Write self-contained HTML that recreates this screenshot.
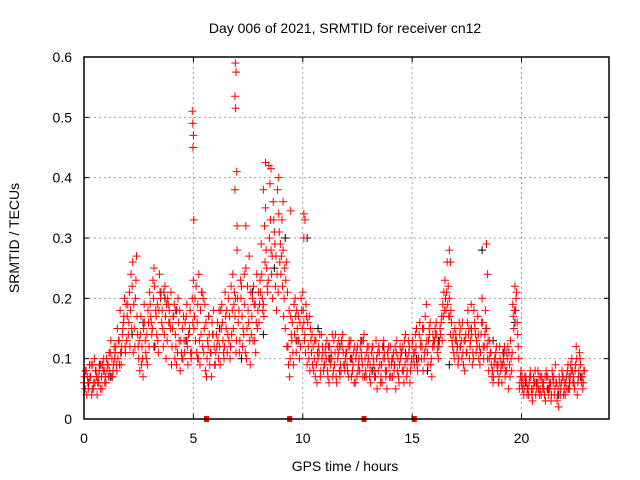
<!DOCTYPE html>
<html><head><meta charset="utf-8"><style>
body{margin:0;background:#fff}
svg{display:block;font-family:"Liberation Sans",sans-serif}
</style></head><body>
<svg id="chart" width="640" height="480" xmlns="http://www.w3.org/2000/svg">
<rect width="640" height="480" fill="#fff"/>
<g id="grid"></g>
<g id="pts"></g>
<g id="axes"></g>
<text x="345" y="33" font-size="14" text-anchor="middle">Day 006 of 2021, SRMTID for receiver cn12</text>
<text x="345" y="471" font-size="14" text-anchor="middle">GPS time / hours</text>
<text transform="translate(19,238) rotate(-90)" font-size="14" text-anchor="middle">SRMTID / TECUs</text>
</svg>
<script>
const xTicks=[0,5,10,15,20];
const yTicks=[0,0.1,0.2,0.3,0.4,0.5,0.6];
const yTickLabels=["0","0.1","0.2","0.3","0.4","0.5","0.6"];
const redA=[.06,.08,.05,.07,.09,.06,.04,.08,.07,.10,
.06,.09,.11,.07,.10,.08,.13,.09,.16,.11,
.19,.12,.22,.15,.27,.10,.17,.07,.13,.09,
.21,.14,.25,.17,.11,.20,.15,.22,.13,.18,
.09,.17,.12,.20,.08,.15,.11,.19,.14,.10,
.23,.13,.19,.09,.21,.15,.07,.17,.11,.14,
.09,.16,.12,.19,.10,.15,.20,.12,.24,.17,
.28,.11,.22,.14,.25,.18,.09,.20,.13,.24,
.16,.29,.19,.35,.21,.39,.27,.31,.18,.34,
.24,.28,.15,.21,.07,.13,.19,.11,.17,.12,
.21,.14,.09,.17,.11,.08,.13,.10,.07,.12,
.09,.13,.06,.11,.08,.14,.10,.07,.12,.09,
.11,.07,.13,.09,.06,.12,.08,.10,.14,.07,
.10,.06,.12,.08,.05,.11,.09,.13,.07,.10,
.12,.07,.09,.13,.06,.11,.08,.14,.10,.06,
.12,.09,.15,.10,.13,.08,.17,.11,.14,.07,
.12,.16,.10,.14,.19,.23,.26,.20,.16,.11,
.14,.09,.12,.16,.08,.11,.15,.19,.10,.14,
.17,.09,.20,.12,.15,.08,.11,.06,.10,.08,
.12,.06,.09,.11,.05,.13,.19,.22,.16,.05,
.06,.04,.07,.05,.08,.03,.06,.05,.07,.04,
.06,.03,.07,.05,.08,.04,.06,.02,.05,.07,
.04,.08,.05,.10,.06,.12,.07,.09,.05];
const redB=[.05,.07,.09,.04,.06,.08,.07,.05,.09,.06,
.08,.11,.07,.09,.12,.10,.18,.14,.20,.13,
.16,.24,.11,.20,.14,.08,.12,.19,.10,.16,
.17,.23,.12,.19,.24,.16,.21,.10,.19,.15,
.15,.10,.18,.13,.11,.17,.13,.09,.18,.20,
.17,.11,.24,.14,.20,.08,.13,.09,.16,.12,
.14,.10,.18,.13,.21,.11,.17,.14,.19,.11,
.16,.23,.12,.19,.15,.27,.14,.22,.11,.18,
.23,.20,.32,.25,.42,.28,.36,.22,.38,.26,
.33,.20,.26,.09,.17,.11,.20,.15,.10,.18,
.16,.19,.12,.15,.09,.13,.06,.11,.14,.08,
.12,.07,.10,.14,.09,.06,.13,.08,.11,.10,
.08,.12,.10,.06,.11,.09,.13,.07,.10,.12,
.07,.11,.09,.13,.08,.06,.12,.10,.05,.09,
.09,.11,.05,.10,.12,.08,.13,.07,.11,.09,
.10,.14,.08,.16,.12,.10,.19,.13,.09,.14,
.15,.11,.13,.17,.21,.18,.22,.14,.12,.15,
.11,.16,.13,.09,.14,.18,.12,.09,.16,.13,
.10,.14,.12,.18,.10,.13,.07,.09,.12,.06,
.08,.11,.07,.10,.09,.08,.15,.20,.12,.07,
.05,.07,.04,.06,.05,.07,.04,.08,.05,.06,
.04,.07,.05,.03,.06,.09,.04,.06,.08,.05,
.07,.05,.09,.06,.08,.04,.11,.06,.08];
const redC=[.07,.04,.06,.09,.05,.08,.06,.09,.05,.08,
.10,.07,.13,.08,.11,.15,.09,.12,.17,.19,
.14,.18,.26,.12,.17,.13,.09,.15,.11,.18,
.19,.15,.22,.14,.18,.21,.12,.17,.20,.16,
.12,.19,.09,.16,.13,.10,.16,.12,.15,.11,
.15,.22,.10,.18,.12,.19,.10,.14,.07,.18,
.11,.13,.09,.16,.12,.18,.13,.22,.15,.20,
.20,.13,.17,.24,.10,.16,.21,.13,.19,.15,
.19,.24,.17,.28,.23,.33,.20,.29,.24,.31,
.27,.17,.23,.12,.10,.16,.14,.18,.13,.20,
.18,.11,.16,.08,.14,.10,.09,.12,.08,.11,
.11,.08,.12,.10,.13,.07,.11,.09,.14,.08,
.09,.13,.07,.11,.10,.08,.12,.09,.07,.11,
.12,.08,.10,.07,.11,.09,.06,.11,.08,.12,
.07,.10,.12,.08,.09,.11,.06,.10,.13,.08,
.13,.11,.09,.14,.10,.15,.12,.09,.16,.12,
.13,.14,.12,.16,.17,.20,.19,.17,.13,.10,
.13,.10,.15,.11,.13,.16,.10,.14,.18,.11,
.14,.11,.16,.14,.12,.10,.09,.07,.11,.09,
.10,.09,.12,.08,.11,.10,.17,.18,.14,.06,
.07,.05,.06,.04,.07,.05,.08,.06,.04,.07,
.05,.08,.04,.06,.07,.05,.03,.07,.06,.04,
.06,.09,.07,.08,.05,.10,.08,.07,.06];
const redD=[.08,.06,.07,.05,.10,.07,.06,.09,.08,.07,
.09,.08,.10,.12,.09,.13,.11,.15,.12,.17,
.21,.15,.19,.23,.12,.14,.10,.16,.14,.12,
.16,.20,.18,.13,.21,.18,.14,.19,.16,.21,
.17,.14,.11,.18,.10,.13,.17,.14,.11,.16,
.20,.16,.13,.21,.11,.16,.12,.11,.14,.09,
.12,.18,.15,.11,.17,.14,.10,.18,.21,.13,
.18,.20,.15,.11,.22,.13,.17,.19,.16,.21,
.21,.18,.26,.22,.30,.24,.33,.27,.21,.29,
.22,.25,.12,.18,.14,.09,.17,.13,.16,.15,
.13,.17,.10,.13,.12,.07,.11,.14,.10,.09,
.10,.12,.09,.07,.11,.12,.08,.13,.09,.11,
.12,.10,.08,.12,.07,.10,.11,.13,.08,.09,
.09,.12,.07,.10,.12,.07,.10,.08,.11,.07,
.10,.08,.11,.07,.10,.12,.09,.08,.12,.10,
.11,.12,.10,.12,.15,.11,.13,.15,.10,.13,
.14,.12,.15,.13,.18,.21,.17,.18,.14,.13,
.12,.14,.10,.13,.11,.14,.13,.11,.15,.12,
.12,.16,.10,.15,.13,.11,.08,.10,.09,.07,
.09,.10,.08,.12,.07,.11,.18,.21,.10,.08,
.06,.06,.05,.07,.04,.06,.06,.05,.07,.05,
.07,.05,.06,.04,.07,.06,.05,.04,.07,.06,
.05,.07,.08,.07,.09,.06,.10,.07,.08];
const blackVals=[.06,.09,.07,.11,.14,.16,.12,.20,.18,.13,.10,.17,.15,.12,.10,.21,.14,.25,.30,.13,.30,.15,.10,.12,.10,.13,.08,.12,.09,.11,.10,.08,.13,.09,.12,.15,.28,.13,.11,.16,.06,.06,.05,.04,.06,.07];
const spikeTimes=[4.95,4.97,5.0,4.98,5.02,6.92,6.95,6.9,6.93,6.98,6.9,7.0,7.4,8.2,8.3,8.55,9.45,10.05,10.1,10.05,16.7,16.75,18.4,18.45,9.1,8.9];
const spikeVals=[.51,.49,.47,.45,.33,.59,.575,.535,.515,.41,.38,.32,.32,.38,.425,.415,.345,.34,.33,.30,.28,.26,.29,.24,.36,.40];
const gapTimes=[5.6,9.4,12.8,15.1];

const X0=84,X1=609,Y0=419,Y1=57,XMAX=24,YMAX=0.6;
const sx=t=>X0+(X1-X0)*t/XMAX;
const sy=v=>Y0-(Y0-Y1)*v/YMAX;
const NS="http://www.w3.org/2000/svg";
function mk(tag,attrs,parent){const e=document.createElementNS(NS,tag);for(const k in attrs)e.setAttribute(k,attrs[k]);parent.appendChild(e);return e;}
const grid=document.getElementById('grid'),pts=document.getElementById('pts'),axes=document.getElementById('axes');
xTicks.forEach(t=>{
  if(t>0){const l=mk('line',{x1:sx(t),x2:sx(t),y1:Y1,y2:Y0,stroke:'#a0a0a0','stroke-dasharray':'2,3'},grid);
  
  }
  const a=mk('line',{x1:sx(t),x2:sx(t),y1:Y0,y2:Y0-5,stroke:'#000'},axes);
  
  
  const b=mk('line',{x1:sx(t),x2:sx(t),y1:Y1,y2:Y1+5,stroke:'#000'},axes);
  
  
  const tx=mk('text',{x:sx(t),y:Y0+24,'font-size':14,'text-anchor':'middle'},axes);tx.textContent=String(t);
  
  
});
yTicks.forEach((v,i)=>{
  if(v>0&&v<YMAX){const l=mk('line',{x1:X0,x2:X1,y1:sy(v),y2:sy(v),stroke:'#a0a0a0','stroke-dasharray':'2,3'},grid);
  
  }
  const a=mk('line',{x1:X0,x2:X0+5,y1:sy(v),y2:sy(v),stroke:'#000'},axes);
  
  
  const b=mk('line',{x1:X1,x2:X1-5,y1:sy(v),y2:sy(v),stroke:'#000'},axes);
  
  
  const tx=mk('text',{x:X0-12,y:sy(v)+5,'font-size':14,'text-anchor':'end'},axes);tx.textContent=yTickLabels[i];
  
  
});
const fr=mk('rect',{x:X0,y:Y1,width:X1-X0,height:Y0-Y1,fill:'none',stroke:'#000','stroke-width':1.5},axes);


function plus(t,v,col,name){
  const x=sx(t),y=sy(v);
  const p=mk('path',{d:`M${x-4},${y}H${x+4}M${x},${y-4}V${y+4}`,stroke:col,'stroke-width':1,fill:'none'},pts);
  
  
}
blackVals.forEach((v,i)=>plus(i*0.5+0.2,v,'#000','black-point'));
redA.forEach((v,i)=>plus(i*0.1,v,'#f00','red-point'));
redB.forEach((v,i)=>plus(i*0.1+0.05,v,'#f00','red-point'));
redC.forEach((v,i)=>plus(i*0.1+0.025,v,'#f00','red-point'));
redD.forEach((v,i)=>plus(i*0.1+0.075,v,'#f00','red-point'));
spikeTimes.forEach((t,i)=>plus(t,spikeVals[i],'#f00','red-spike-point'));
gapTimes.forEach(t=>{
  const r=mk('rect',{x:sx(t)-2.5,y:Y0-3,width:5,height:6,fill:'#f00'},pts);
  
  
});
</script>
</body></html>
